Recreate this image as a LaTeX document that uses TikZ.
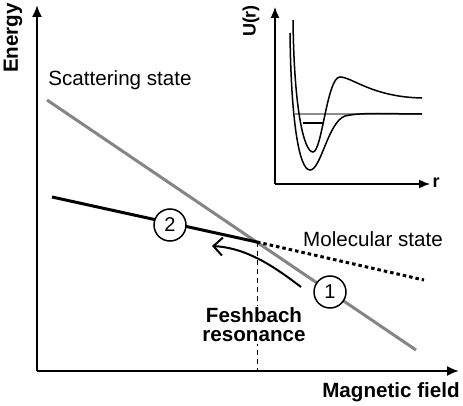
\documentclass[tikz,border=0pt]{standalone}
\usepackage{fontspec}
\setmainfont{Liberation Sans}
\usetikzlibrary{arrows.meta}
\begin{document}
\begin{tikzpicture}[x=1pt,y=-1pt,
  axis/.style={line width=2pt,-{Latex[length=12pt,width=10pt]}},
  inaxis/.style={line width=1.5pt,-{Latex[length=11pt,width=9pt]}},
  lbl/.style={font=\fontsize{20.6}{22}\selectfont, inner sep=0pt},
  blbl/.style={font=\fontsize{20.6}{22}\selectfont\bfseries, inner sep=0pt},
  num/.style={circle,draw,line width=1.5pt,fill=white,minimum size=32pt,inner sep=0pt,font=\fontsize{20}{22}\selectfont},
  curve/.style={line width=1.5pt},
  grayline/.style={line width=3pt,color=black!48},
  molline/.style={line width=3pt}]
\useasboundingbox (0,0) rectangle (463,406);
% main axes
\coordinate (O) at (37,371);
\coordinate (Ytop) at (37,5);
\coordinate (Xend) at (459,371);
\draw[axis] (O) -- (Ytop);
\draw[axis] (O) -- (Xend);
\node[blbl,rotate=90] (energy) at (13,38) {Energy};
\node[blbl] (mag) at (391,392) {Magnetic field};
% states
\coordinate (gs) at (47,100);
\coordinate (ge) at (416,350);
\coordinate (ms) at (52,197);
\coordinate (X) at (257,242);
\coordinate (me) at (424,280);
\coordinate (Xb) at (257,371);
\draw[grayline] (gs) -- (ge);
\draw[molline] (ms) -- (X);
\draw[line width=3pt,dash pattern=on 3.5pt off 3pt] (X) -- (me);
\draw[line width=1pt,dash pattern=on 5pt off 4pt] (X) -- (Xb);
\node[lbl] (scat) at (120,80) {Scattering state};
\node[lbl] (mol) at (373,239) {Molecular state};
\node[blbl,align=center,fill=white,inner sep=2pt] (fesh) at (254,325) {Feshbach\\[-3pt]resonance};
% circles
\node[num] (c2) at (170,225) {2};
\node[num] (c1) at (330,292) {1};
% curved arrow
\coordinate (as) at (301,287);
\coordinate (ae) at (212,246);
\draw[line width=2pt,-{Straight Barb[length=9pt,width=18pt,line width=2pt]}] (as) .. controls (276,268) and (248,248) .. (ae);
% inset
\coordinate (iO) at (275,184);
\coordinate (iY) at (275,7);
\coordinate (iX) at (430,184);
\draw[inaxis] (iO) -- (iY);
\draw[inaxis] (iO) -- (iX);
\node[font=\fontsize{18}{20}\selectfont\bfseries,inner sep=0pt,rotate=90] (U) at (251,21) {U(r)};
\node[font=\fontsize{18}{20}\selectfont\bfseries,inner sep=0pt] (r) at (436,183) {r};
\draw[line width=1.5pt,color=black!45] (295,114) -- (422,114);
\draw[line width=2pt] (303,123) -- (323,123);
\draw[curve] (290,33) .. controls (291,120) and (299,170) .. (310,170)
  .. controls (321,170) and (328,122) .. (345,116)
  .. controls (362,112) and (390,114) .. (422,114);
\draw[curve] (293,20) .. controls (294,110) and (304,152) .. (313,152)
  .. controls (322,152) and (327,77) .. (340,77)
  .. controls (352,77) and (372,97) .. (422,98);
\end{tikzpicture}
\end{document}
